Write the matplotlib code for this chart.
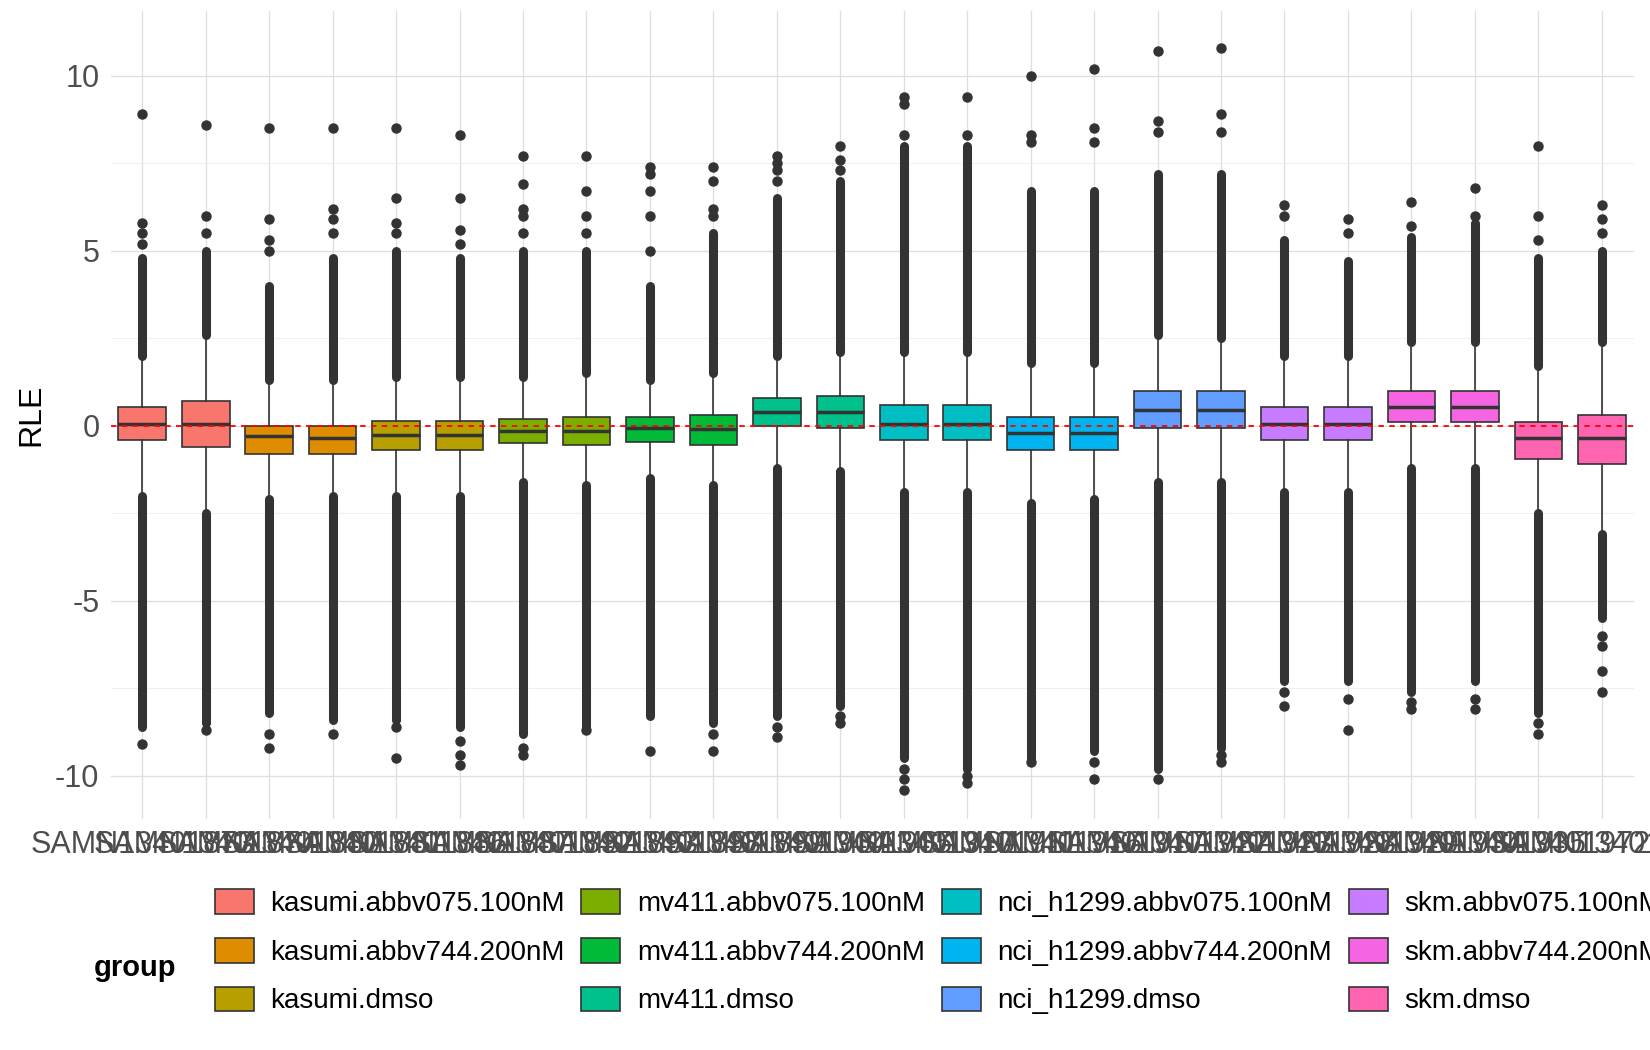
import matplotlib
matplotlib.use('Agg')
import matplotlib.pyplot as plt
from matplotlib.patches import Patch

plt.rcParams['font.family'] = ['Liberation Sans', 'DejaVu Sans']
plt.rcParams['axes.unicode_minus'] = False

samples = ['SAMN13401873', 'SAMN13401874', 'SAMN13401880', 'SAMN13401881', 'SAMN13401886',
           'SAMN13401887', 'SAMN13401892', 'SAMN13401893', 'SAMN13401898', 'SAMN13401899',
           'SAMN13401904', 'SAMN13401905', 'SAMN13401910', 'SAMN13401911', 'SAMN13401916',
           'SAMN13401917', 'SAMN13401922', 'SAMN13401923', 'SAMN13401928', 'SAMN13401929',
           'SAMN13401934', 'SAMN13401935', 'SAMN13401972', 'SAMN13401973']
groups = ['kasumi.abbv075.100nM', 'kasumi.abbv744.200nM', 'kasumi.dmso',
          'mv411.abbv075.100nM', 'mv411.abbv744.200nM', 'mv411.dmso',
          'nci_h1299.abbv075.100nM', 'nci_h1299.abbv744.200nM', 'nci_h1299.dmso',
          'skm.abbv075.100nM', 'skm.abbv744.200nM', 'skm.dmso']
group_colors = ['#F8766D', '#DE8C00', '#B79F00', '#7CAE00', '#00BA38', '#00C08B',
                '#00BFC4', '#00B4F0', '#619CFF', '#C77CFF', '#F564E3', '#FF64B0']

medians = [.05, .05, -.3, -.35, -.25, -.25, -.15, -.15, -.05, -.1, .4, .4,
           .05, .05, -.2, -.2, .45, .45, .05, .05, .55, .55, -.35, -.35]
q1 = [-.4, -.6, -.8, -.8, -.7, -.7, -.5, -.55, -.45, -.55, 0.0, -.05,
      -.4, -.4, -.7, -.7, -.05, -.05, -.4, -.4, .1, .1, -.95, -1.1]
q3 = [.55, .7, 0.0, 0.0, .15, .15, .2, .25, .25, .3, .8, .85,
      .6, .6, .25, .25, 1.0, 1.0, .55, .55, 1.0, 1.0, .1, .3]
whis_lo = [-2.0, -2.5, -2.1, -2.0, -2.0, -2.0, -1.6, -1.7, -1.5, -1.7, -1.2, -1.3,
           -1.9, -1.9, -2.2, -2.1, -1.6, -1.6, -1.9, -1.9, -1.2, -1.2, -2.5, -3.1]
whis_hi = [2.0, 2.6, 1.3, 1.3, 1.4, 1.4, 1.4, 1.5, 1.3, 1.5, 2.0, 2.1,
           2.1, 2.1, 1.8, 1.8, 2.6, 2.5, 2.0, 2.0, 2.4, 2.4, 1.7, 2.4]
# extent of the dense runs of outliers beyond the whiskers
dense_hi = [4.8, 5.0, 4.0, 4.8, 5.0, 4.8, 5.0, 5.0, 4.0, 5.5, 6.5, 7.0,
            8.0, 8.0, 6.7, 6.7, 7.2, 7.2, 5.3, 4.7, 5.4, 5.8, 4.8, 5.0]
dense_lo = [-8.6, -8.5, -8.2, -8.4, -8.4, -8.6, -8.8, -8.6, -8.3, -8.5, -8.3, -8.0,
            -9.5, -9.8, -9.5, -9.3, -9.8, -9.2, -7.3, -7.3, -7.6, -7.3, -8.2, -5.5]
sparse_out = [
    [5.2, 5.5, 5.8, 8.9, -9.1], [5.5, 6.0, 8.6, -8.7], [5.0, 5.3, 5.9, 8.5, -8.8, -9.2],
    [5.5, 5.9, 6.2, 8.5, -8.8], [5.5, 5.8, 6.5, 8.5, -8.6, -9.5], [5.2, 5.6, 6.5, 8.3, -9.0, -9.4, -9.7],
    [5.5, 6.0, 6.2, 6.9, 7.7, -9.2, -9.4], [5.5, 6.0, 6.7, 7.7, -8.7], [5.0, 6.0, 6.7, 7.2, 7.4, -9.3],
    [6.0, 6.2, 7.0, 7.4, -8.8, -9.3], [7.0, 7.3, 7.5, 7.7, -8.6, -8.9], [7.3, 7.6, 8.0, -8.3, -8.5],
    [8.3, 9.2, 9.4, -9.8, -10.1, -10.4], [8.3, 9.4, -10.0, -10.2], [8.1, 8.3, 10.0, -9.6],
    [8.1, 8.5, 10.2, -9.6, -10.1], [8.4, 8.7, 10.7, -10.1], [8.4, 8.9, 10.8, -9.4, -9.6],
    [6.0, 6.3, -7.6, -8.0], [5.5, 5.9, -7.8, -8.7], [5.7, 6.4, -7.9, -8.1],
    [6.0, 6.8, -7.8, -8.1], [5.3, 6.0, 8.0, -8.5, -8.8], [5.5, 5.9, 6.3, -6.0, -6.3, -7.0, -7.6],
]

fig = plt.figure(figsize=(16.5, 10.5), dpi=100)
ax = fig.add_axes([0.067, 0.22, 0.923, 0.77])
dark = '#333333'

for i in range(len(samples)):
    col = group_colors[i // 2]
    stats = [dict(med=medians[i], q1=q1[i], q3=q3[i], whislo=whis_lo[i], whishi=whis_hi[i], fliers=[])]
    ax.bxp(stats, positions=[i], widths=0.75, patch_artist=True, showfliers=False, showcaps=False,
           boxprops=dict(facecolor=col, edgecolor=dark, linewidth=1.2),
           medianprops=dict(color=dark, linewidth=2.5),
           whiskerprops=dict(color=dark, linewidth=1.2), zorder=3)
    ax.plot([i, i], [whis_hi[i], dense_hi[i]], color=dark, lw=6.5, solid_capstyle='round', zorder=2)
    ax.plot([i, i], [whis_lo[i], dense_lo[i]], color=dark, lw=6.5, solid_capstyle='round', zorder=2)
    ax.plot([i] * len(sparse_out[i]), sparse_out[i], 'o', color=dark, ms=6.5, zorder=2)

ax.axhline(0, color='red', ls=(0, (3, 3)), lw=1.3, zorder=4)

ax.set_xlim(-0.5, len(samples) - 0.5)
ax.set_ylim(-11.24, 11.87)
ax.set_yticks([-10, -5, 0, 5, 10])
ax.set_yticks([-7.5, -2.5, 2.5, 7.5], minor=True)
ax.set_xticks(range(len(samples)))
ax.set_xticklabels(samples)
ax.tick_params(axis='both', which='both', length=0, labelsize=22, labelcolor='#4D4D4D', pad=8)
ax.grid(True, which='major', color='#DEDEDE', lw=0.9)
ax.grid(True, which='minor', axis='y', color='#EEEEEE', lw=0.6)
ax.set_axisbelow(True)
for s in ax.spines.values():
    s.set_visible(False)
ax.set_ylabel('RLE', fontsize=23, labelpad=6)

handles = [Patch(facecolor=c, edgecolor=dark, linewidth=1.2) for c in group_colors]
leg = fig.legend(handles, groups, loc='lower left', bbox_to_anchor=(0.115, 0.01), ncol=4,
                 frameon=False, fontsize=20, handlelength=1.4, handleheight=1.0,
                 columnspacing=0.6, labelspacing=0.75, handletextpad=0.6)
fig.text(0.057, 0.078, 'group', fontsize=21, fontweight='bold', va='center')

fig.savefig('out.png', dpi=100)
